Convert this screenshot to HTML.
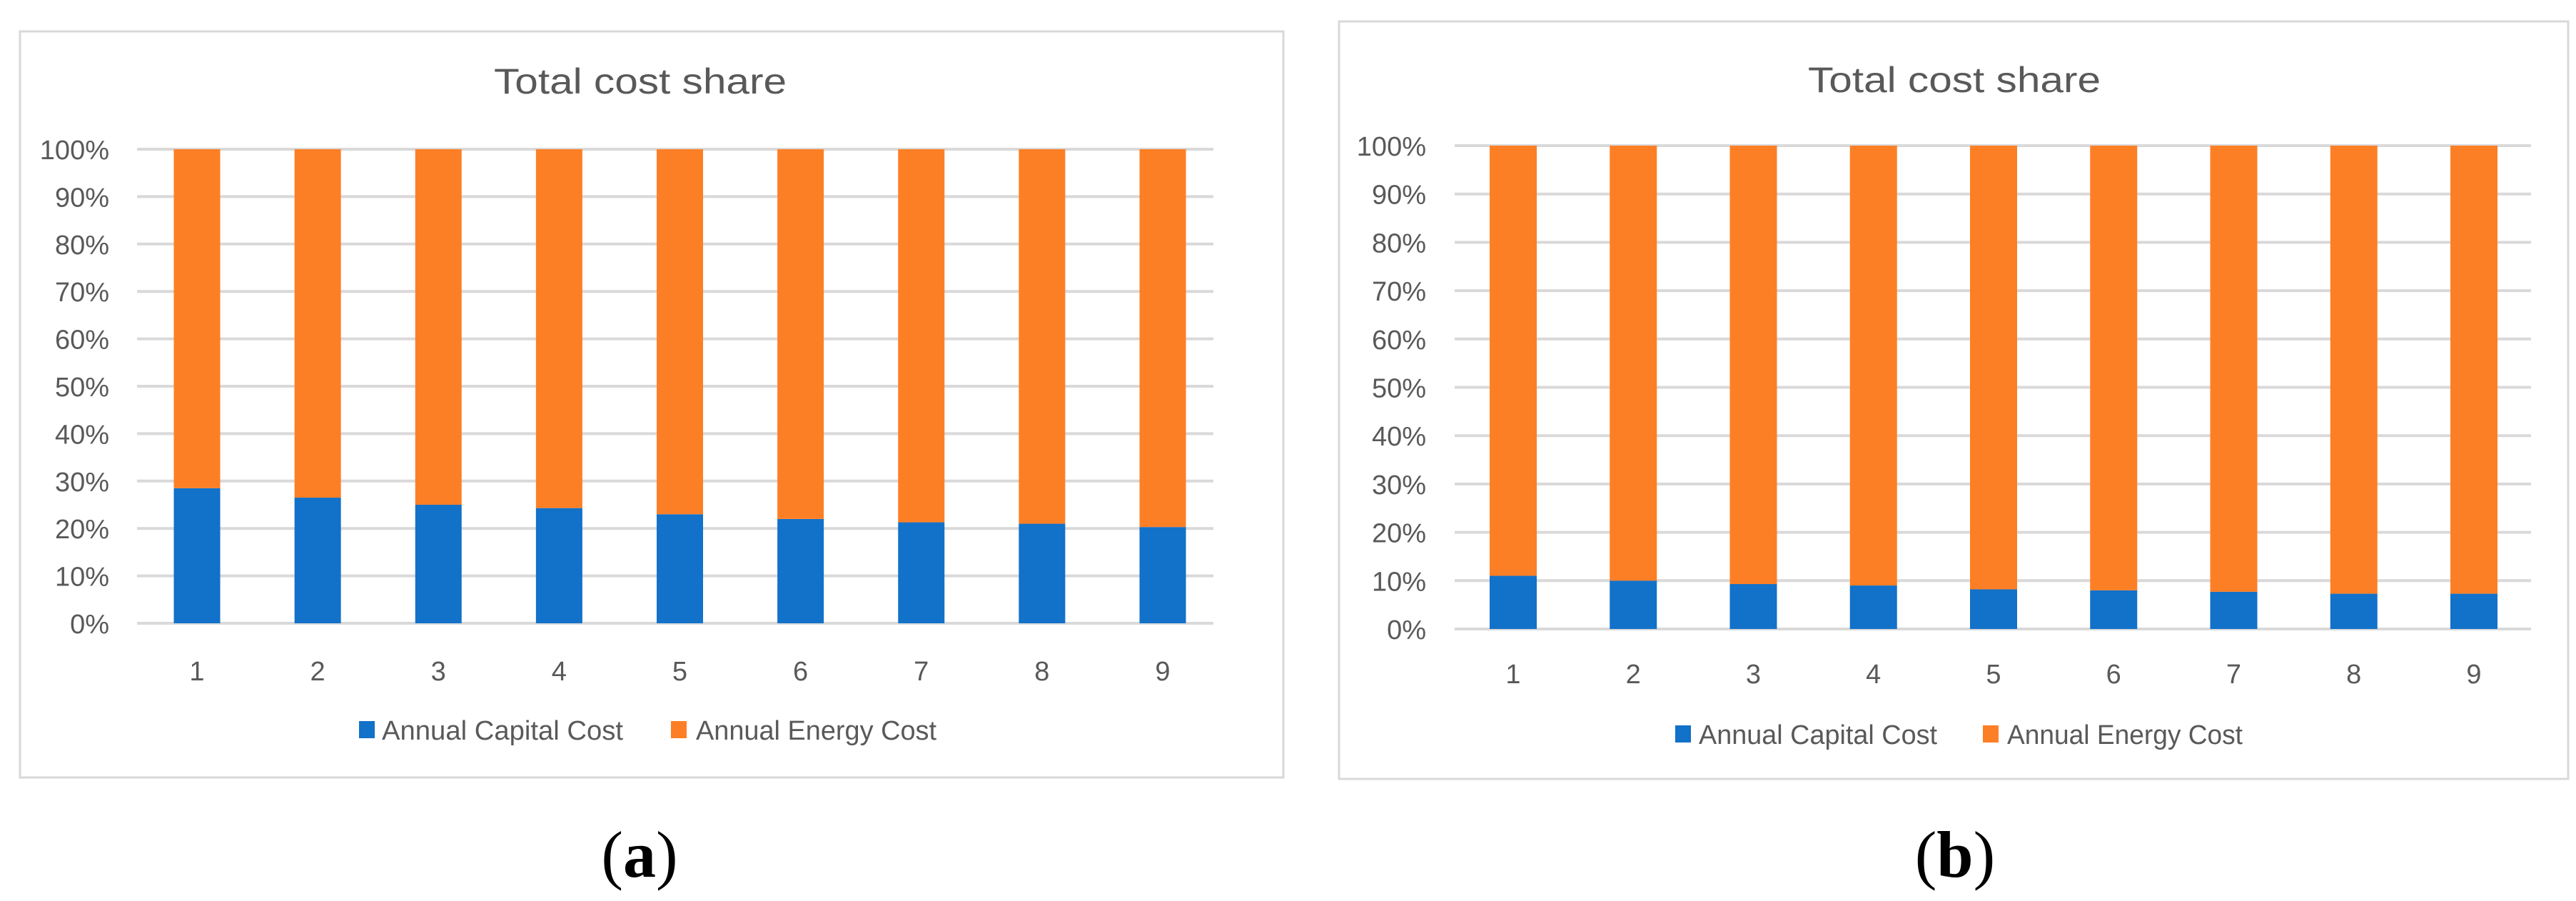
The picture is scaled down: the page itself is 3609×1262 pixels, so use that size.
<!DOCTYPE html>
<html><head><meta charset="utf-8"><style>
html,body{margin:0;padding:0;background:#fff;}
svg{display:block;font-family:"Liberation Sans",sans-serif;}
</style></head><body>
<svg id="fig" width="3609" height="1262" viewBox="0 0 3609 1262" xmlns="http://www.w3.org/2000/svg"></svg>
<script>
const categories = ["1","2","3","4","5","6","7","8","9"];
const capitalA = [28.5, 26.5, 25, 24.3, 23, 22, 21.3, 21, 20.3];
const capitalB = [11, 10, 9.3, 9, 8.2, 8, 7.7, 7.3, 7.3];
const yTicks = [0,10,20,30,40,50,60,70,80,90,100];
const yTickLabels = ["0%","10%","20%","30%","40%","50%","60%","70%","80%","90%","100%"];
const seriesNames = ["Annual Capital Cost","Annual Energy Cost"];

const NS = "http://www.w3.org/2000/svg";
const svg = document.getElementById("fig");
function mk(tag, attrs, parent, text){
  const e = document.createElementNS(NS, tag);
  for (const k in attrs) e.setAttribute(k, attrs[k]);
  if (text !== undefined) e.textContent = text;
  (parent||svg).appendChild(e);
  return e;
}
const BLUE="#1271c9", ORANGE="#fd7f25", GRID="#d9d9d9", TXT="#595959";

function panel(cfg, capital, id){
  const g = mk("g", {});
  
  
  const box = mk("rect",{x:cfg.bx, y:cfg.by, width:cfg.bw, height:cfg.bh, fill:"#fff", stroke:GRID, "stroke-width":3}, g);
  
  
  const t = mk("text",{x:cfg.tx, y:cfg.ty, "text-anchor":"middle", "font-size":50, fill:TXT, textLength:cfg.tw, lengthAdjust:"spacingAndGlyphs"}, g, "Total cost share");
  
  
  const y = v => cfg.y0 + (cfg.y100 - cfg.y0) * v / 100;
  const x = i => cfg.c1 + (cfg.c9 - cfg.c1) * i / (categories.length - 1);
  yTicks.forEach((v,i)=>{
    const l = mk("line",{x1:cfg.px0, x2:cfg.px1, y1:y(v), y2:y(v), stroke:GRID, "stroke-width":4}, g);
    
    
    const tl = mk("text",{x:cfg.lx, y:y(v)+14, "text-anchor":"end", "font-size":38, fill:TXT}, g, yTickLabels[i]);
    
    
  });
  categories.forEach((c,i)=>{
    const cx = x(i), w = cfg.bwid;
    const b1 = mk("rect",{x:cx-w/2, y:y(capital[i]), width:w, height:y(0)-y(capital[i]), fill:BLUE}, g);
    
    
    const b2 = mk("rect",{x:cx-w/2, y:y(100), width:w, height:y(capital[i])-y(100), fill:ORANGE}, g);
    
    
    const xl = mk("text",{x:cx, y:cfg.xly, "text-anchor":"middle", "font-size":38, fill:TXT}, g, c);
    
    
  });
  const colors=[BLUE,ORANGE];
  cfg.leg.forEach((L,i)=>{
    const s = mk("rect",{x:L.sx, y:cfg.ly-26, width:22, height:24, fill:colors[i]}, g);
    
    
    const lt = mk("text",{x:L.tx, y:cfg.ly, "font-size":38, fill:TXT, textLength:L.tw, lengthAdjust:"spacingAndGlyphs"}, g, seriesNames[i]);
    
    
  });
  const cap = mk("text",{x:cfg.capx, y:1228, "text-anchor":"middle", "font-size":92, fill:"#000", "font-family":"Liberation Serif, serif"}, g);
  
  
  mk("tspan",{},cap,"(");
  mk("tspan",{"font-weight":"bold"},cap,id);
  mk("tspan",{},cap,")");
}

panel({bx:28,by:44,bw:1770,bh:1045, tx:897,ty:131,tw:410, y0:873,y100:209, px0:192,px1:1700, lx:153,
  c1:276,c9:1629,bwid:65, xly:953, ly:1036,
  leg:[{sx:503,tx:535,tw:338},{sx:940,tx:975,tw:337}], capx:896}, capitalA, "a");
panel({bx:1876,by:30,bw:1722,bh:1061, tx:2738,ty:129,tw:410, y0:881,y100:204, px0:2038,px1:3546, lx:1998,
  c1:2120,c9:3466,bwid:66, xly:957, ly:1042,
  leg:[{sx:2347,tx:2380,tw:334},{sx:2778,tx:2812,tw:330}], capx:2739}, capitalB, "b");
</script>
</body></html>
